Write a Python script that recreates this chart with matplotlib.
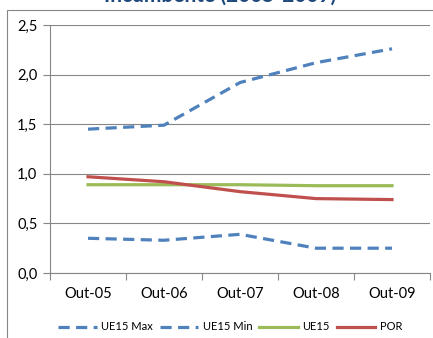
import numpy as np
import matplotlib.pyplot as plt
from matplotlib.patches import Rectangle

periodos = ["Out-05", "Out-06", "Out-07", "Out-08", "Out-09"]
ue15_max = [1.45, 1.49, 1.92, 2.12, 2.26]
ue15_min = [0.35, 0.33, 0.39, 0.25, 0.25]
ue15 = [0.89, 0.89, 0.89, 0.88, 0.88]
por = [0.97, 0.92, 0.82, 0.75, 0.74]

plt.rcParams['font.family'] = ['Lato', 'DejaVu Sans']

W, H = 433, 338
fig = plt.figure(figsize=(W / 100, H / 100), dpi=100)

# chart frame
fig.patches.append(Rectangle((7 / W, -0.1), 1.2, (H - 10) / H + 0.1,
                             transform=fig.transFigure, fill=False,
                             edgecolor='#868686', linewidth=0.8))

fig.text(220 / W, 1 - 6 / H, "Incumbente (2005-2009)", ha='center', va='bottom',
         fontsize=15, fontweight='bold', color='#1F497D')

ax = fig.add_axes([50 / W, 1 - 273 / H, 380 / W, 248 / H])
x = np.arange(len(periodos))

blue = '#4F81BD'
ax.plot(x, ue15_max, color=blue, lw=2.3, dashes=(3.5, 2), label='UE15 Max')
ax.plot(x, ue15_min, color=blue, lw=2.3, dashes=(3.5, 2), label='UE15 Min')
ax.plot(x, ue15, color='#9BBB59', lw=2.3, label='UE15')
ax.plot(x, por, color='#C0504D', lw=2.3, label='POR')

ax.set_xlim(-0.5, 4.5)
ax.set_ylim(0, 2.5)
ax.set_yticks(np.arange(0, 2.51, 0.5))
ax.set_yticklabels([f"{v:.1f}".replace('.', ',') for v in np.arange(0, 2.51, 0.5)])
ax.set_xticks(np.arange(-0.5, 5, 1))
ax.set_xticklabels([])
ax.set_xticks(x, minor=True)
ax.set_xticklabels(periodos, minor=True)
ax.tick_params(axis='x', which='minor', length=0, pad=10, labelsize=10.5)
ax.tick_params(axis='x', which='major', length=5, color='#868686')
ax.tick_params(axis='y', length=5, color='#868686', labelsize=10.5, pad=4)

ax.grid(axis='y', color='#868686', lw=0.8)
ax.set_axisbelow(True)
for s in ['top', 'right']:
    ax.spines[s].set_visible(False)
for s in ['left', 'bottom']:
    ax.spines[s].set_color('#868686')
    ax.spines[s].set_linewidth(0.8)

fig.legend(loc='center', bbox_to_anchor=(230 / W, 1 - 327 / H), ncol=4,
           frameon=False, fontsize=8, handlelength=3.5, handletextpad=0.4,
           columnspacing=0.6)

fig.savefig('out.png', dpi=100)
